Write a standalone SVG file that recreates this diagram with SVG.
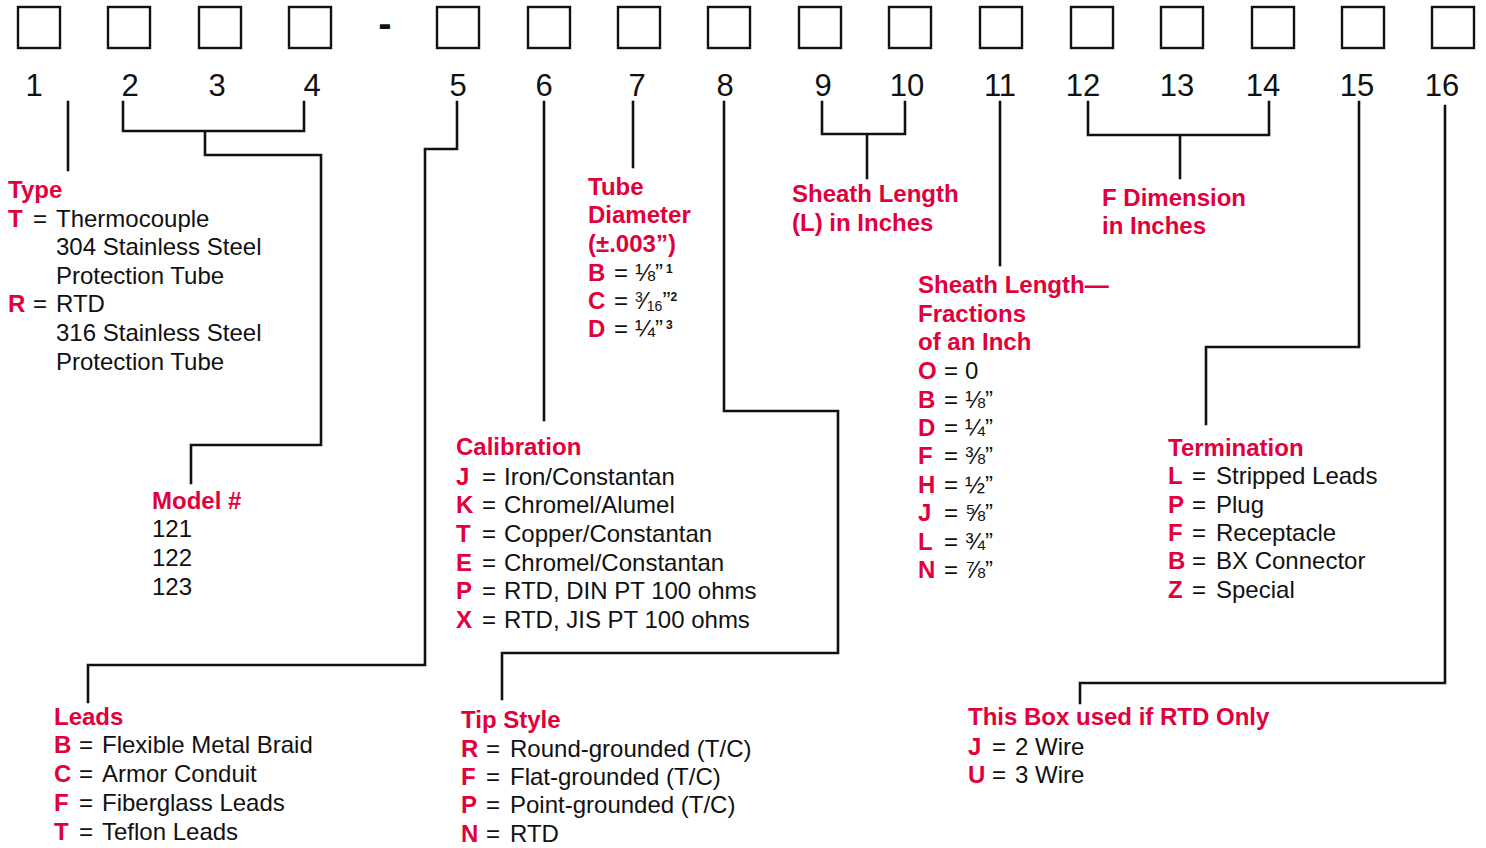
<svg xmlns="http://www.w3.org/2000/svg" width="1486" height="848" viewBox="0 0 1486 848">
<style>
.bg{fill:#fff}
.box{fill:none;stroke:#111;stroke-width:2.4}
.ln{fill:none;stroke:#111;stroke-width:2.6;stroke-linecap:square;stroke-linejoin:miter}
.num{font-family:"Liberation Sans",Arial,Helvetica,sans-serif;font-size:31px;fill:#111;text-anchor:middle}
.h{font-family:"Liberation Sans",Arial,Helvetica,sans-serif;font-size:24px;font-weight:bold;fill:#E2003C}
.t{font-family:"Liberation Sans",Arial,Helvetica,sans-serif;font-size:24px;fill:#111}
.k{font-weight:bold;fill:#E2003C}
.sup{font-size:12px;font-weight:bold;fill:#111}
.fr{font-size:14px}
.dash{font-family:"Liberation Sans",Arial,Helvetica,sans-serif;font-size:40px;font-weight:bold;fill:#111;text-anchor:middle}
</style>
<rect class="bg" x="0" y="0" width="1486" height="848"/>
<g id="code-boxes">
<rect class="box" x="18" y="7" width="42" height="41"/>
<rect class="box" x="108" y="7" width="42" height="41"/>
<rect class="box" x="199" y="7" width="42" height="41"/>
<rect class="box" x="289" y="7" width="42" height="41"/>
<text class="dash" x="385" y="37">-</text>
<rect class="box" x="437" y="7" width="42" height="41"/>
<rect class="box" x="528" y="7" width="42" height="41"/>
<rect class="box" x="618" y="7" width="42" height="41"/>
<rect class="box" x="708" y="7" width="42" height="41"/>
<rect class="box" x="799" y="7" width="42" height="41"/>
<rect class="box" x="889" y="7" width="42" height="41"/>
<rect class="box" x="980" y="7" width="42" height="41"/>
<rect class="box" x="1071" y="7" width="42" height="41"/>
<rect class="box" x="1161" y="7" width="42" height="41"/>
<rect class="box" x="1252" y="7" width="42" height="41"/>
<rect class="box" x="1342" y="7" width="42" height="41"/>
<rect class="box" x="1432" y="7" width="42" height="41"/>
</g>
<g id="position-numbers">
<text class="num" x="34" y="96">1</text>
<text class="num" x="130" y="96">2</text>
<text class="num" x="217" y="96">3</text>
<text class="num" x="312" y="96">4</text>
<text class="num" x="458" y="96">5</text>
<text class="num" x="544" y="96">6</text>
<text class="num" x="637" y="96">7</text>
<text class="num" x="725" y="96">8</text>
<text class="num" x="823" y="96">9</text>
<text class="num" x="907" y="96">10</text>
<text class="num" x="1000" y="96">11</text>
<text class="num" x="1083" y="96">12</text>
<text class="num" x="1177" y="96">13</text>
<text class="num" x="1263" y="96">14</text>
<text class="num" x="1357" y="96">15</text>
<text class="num" x="1442" y="96">16</text>
</g>
<g id="connectors">
<path class="ln" d="M68,102 V170"/>
<path class="ln" d="M123,102 V131 H304 V102 M205,131 V155 H321 V445 H191 V483"/>
<path class="ln" d="M457,102 V149 H425 V665 H88 V702"/>
<path class="ln" d="M544,102 V420"/>
<path class="ln" d="M633,102 V167"/>
<path class="ln" d="M724,102 V411 H838 V653 H502 V699"/>
<path class="ln" d="M822,102 V134 H905 V102 M867,134 V178"/>
<path class="ln" d="M1000,102 V265"/>
<path class="ln" d="M1088,102 V135 H1269 V102 M1180,135 V178"/>
<path class="ln" d="M1359,102 V347 H1206 V424"/>
<path class="ln" d="M1445,106 V683 H1080 V703"/>
</g>
<g id="type">
<text class="h" x="8" y="198">Type</text>
<text class="t" y="227"><tspan class="k" x="8">T</tspan><tspan x="33">=</tspan><tspan x="56">Thermocouple</tspan></text>
<text class="t" x="56" y="255">304 Stainless Steel</text>
<text class="t" x="56" y="284">Protection Tube</text>
<text class="t" y="312"><tspan class="k" x="8">R</tspan><tspan x="33">=</tspan><tspan x="56">RTD</tspan></text>
<text class="t" x="56" y="341">316 Stainless Steel</text>
<text class="t" x="56" y="370">Protection Tube</text>
</g>
<g id="model">
<text class="h" x="152" y="509">Model #</text>
<text class="t" x="152" y="537">121</text>
<text class="t" x="152" y="566">122</text>
<text class="t" x="152" y="595">123</text>
</g>
<g id="tube-diameter">
<text class="h" x="588" y="195">Tube</text>
<text class="h" x="588" y="223">Diameter</text>
<text class="h" x="588" y="252">(±.003”)</text>
<text class="t" y="281"><tspan class="k" x="588">B</tspan><tspan x="614">=</tspan><tspan x="635">⅛”</tspan><tspan class="sup" x="666" dy="-8">1</tspan></text>
<text class="t" y="309"><tspan class="k" x="588">C</tspan><tspan x="614">=</tspan><tspan class="fr" x="635" dy="-7">3</tspan><tspan dy="7">⁄</tspan><tspan class="fr" dy="2">16</tspan><tspan dy="-2">”</tspan><tspan class="sup" dy="-8">2</tspan></text>
<text class="t" y="337"><tspan class="k" x="588">D</tspan><tspan x="614">=</tspan><tspan x="635">¼”</tspan><tspan class="sup" x="666" dy="-8">3</tspan></text>
</g>
<g id="sheath-length">
<text class="h" x="792" y="202">Sheath Length</text>
<text class="h" x="792" y="231">(L) in Inches</text>
</g>
<g id="f-dimension">
<text class="h" x="1102" y="206">F Dimension</text>
<text class="h" x="1102" y="234">in Inches</text>
</g>
<g id="sheath-fractions">
<text class="h" x="918" y="293">Sheath Length—</text>
<text class="h" x="918" y="322">Fractions</text>
<text class="h" x="918" y="350">of an Inch</text>
<text class="t" y="379"><tspan class="k" x="918">O</tspan><tspan x="944">=</tspan><tspan x="965">0</tspan></text>
<text class="t" y="408"><tspan class="k" x="918">B</tspan><tspan x="944">=</tspan><tspan x="965">⅛”</tspan></text>
<text class="t" y="436"><tspan class="k" x="918">D</tspan><tspan x="944">=</tspan><tspan x="965">¼”</tspan></text>
<text class="t" y="464"><tspan class="k" x="918">F</tspan><tspan x="944">=</tspan><tspan x="965">⅜”</tspan></text>
<text class="t" y="493"><tspan class="k" x="918">H</tspan><tspan x="944">=</tspan><tspan x="965">½”</tspan></text>
<text class="t" y="521"><tspan class="k" x="918">J</tspan><tspan x="944">=</tspan><tspan x="965">⅝”</tspan></text>
<text class="t" y="550"><tspan class="k" x="918">L</tspan><tspan x="944">=</tspan><tspan x="965">¾”</tspan></text>
<text class="t" y="578"><tspan class="k" x="918">N</tspan><tspan x="944">=</tspan><tspan x="965">⅞”</tspan></text>
</g>
<g id="calibration">
<text class="h" x="456" y="455">Calibration</text>
<text class="t" y="485"><tspan class="k" x="456">J</tspan><tspan x="482">=</tspan><tspan x="504">Iron/Constantan</tspan></text>
<text class="t" y="513"><tspan class="k" x="456">K</tspan><tspan x="482">=</tspan><tspan x="504">Chromel/Alumel</tspan></text>
<text class="t" y="542"><tspan class="k" x="456">T</tspan><tspan x="482">=</tspan><tspan x="504">Copper/Constantan</tspan></text>
<text class="t" y="571"><tspan class="k" x="456">E</tspan><tspan x="482">=</tspan><tspan x="504">Chromel/Constantan</tspan></text>
<text class="t" y="599"><tspan class="k" x="456">P</tspan><tspan x="482">=</tspan><tspan x="504">RTD, DIN PT 100 ohms</tspan></text>
<text class="t" y="628"><tspan class="k" x="456">X</tspan><tspan x="482">=</tspan><tspan x="504">RTD, JIS PT 100 ohms</tspan></text>
</g>
<g id="termination">
<text class="h" x="1168" y="456">Termination</text>
<text class="t" y="484"><tspan class="k" x="1168">L</tspan><tspan x="1192">=</tspan><tspan x="1216">Stripped Leads</tspan></text>
<text class="t" y="513"><tspan class="k" x="1168">P</tspan><tspan x="1192">=</tspan><tspan x="1216">Plug</tspan></text>
<text class="t" y="541"><tspan class="k" x="1168">F</tspan><tspan x="1192">=</tspan><tspan x="1216">Receptacle</tspan></text>
<text class="t" y="569"><tspan class="k" x="1168">B</tspan><tspan x="1192">=</tspan><tspan x="1216">BX Connector</tspan></text>
<text class="t" y="598"><tspan class="k" x="1168">Z</tspan><tspan x="1192">=</tspan><tspan x="1216">Special</tspan></text>
</g>
<g id="leads">
<text class="h" x="54" y="725">Leads</text>
<text class="t" y="753"><tspan class="k" x="54">B</tspan><tspan x="79">=</tspan><tspan x="102">Flexible Metal Braid</tspan></text>
<text class="t" y="782"><tspan class="k" x="54">C</tspan><tspan x="79">=</tspan><tspan x="102">Armor Conduit</tspan></text>
<text class="t" y="811"><tspan class="k" x="54">F</tspan><tspan x="79">=</tspan><tspan x="102">Fiberglass Leads</tspan></text>
<text class="t" y="840"><tspan class="k" x="54">T</tspan><tspan x="79">=</tspan><tspan x="102">Teflon Leads</tspan></text>
</g>
<g id="tip-style">
<text class="h" x="461" y="728">Tip Style</text>
<text class="t" y="757"><tspan class="k" x="461">R</tspan><tspan x="486">=</tspan><tspan x="510">Round-grounded (T/C)</tspan></text>
<text class="t" y="785"><tspan class="k" x="461">F</tspan><tspan x="486">=</tspan><tspan x="510">Flat-grounded (T/C)</tspan></text>
<text class="t" y="813"><tspan class="k" x="461">P</tspan><tspan x="486">=</tspan><tspan x="510">Point-grounded (T/C)</tspan></text>
<text class="t" y="842"><tspan class="k" x="461">N</tspan><tspan x="486">=</tspan><tspan x="510">RTD</tspan></text>
</g>
<g id="rtd-only">
<text class="h" x="968" y="725">This Box used if RTD Only</text>
<text class="t" y="755"><tspan class="k" x="968">J</tspan><tspan x="992">=</tspan><tspan x="1015">2 Wire</tspan></text>
<text class="t" y="783"><tspan class="k" x="968">U</tspan><tspan x="992">=</tspan><tspan x="1015">3 Wire</tspan></text>
</g>
</svg>
